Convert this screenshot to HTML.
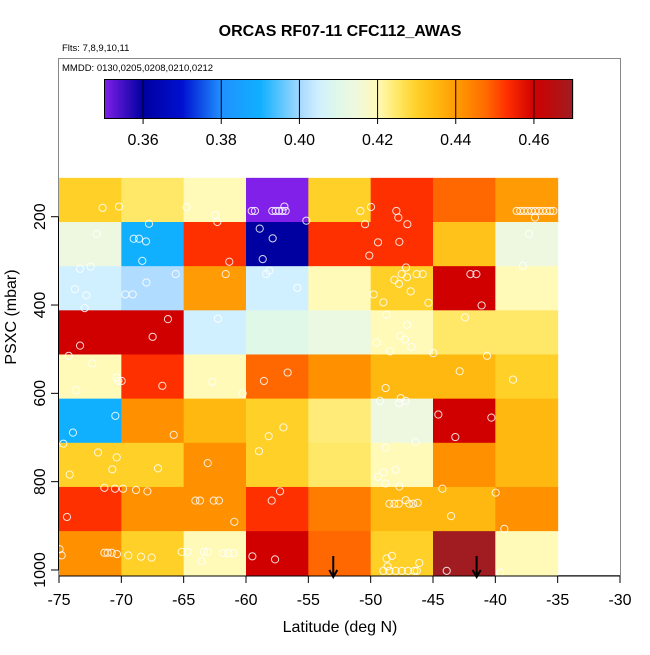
<!DOCTYPE html>
<html><head><meta charset="utf-8"><style>
body{margin:0;background:#fff;}
svg text{font-family:"Liberation Sans",sans-serif;}
</style></head><body>
<svg id="chart" width="650" height="650" xmlns="http://www.w3.org/2000/svg">
<text x="340" y="36" text-anchor="middle" font-size="16" font-weight="bold">ORCAS RF07-11 CFC112_AWAS</text>
<text x="62" y="51" font-size="9.5">Flts: 7,8,9,10,11</text>
<rect x="58.5" y="58.5" width="562" height="517" fill="none" stroke="#888" stroke-width="1"/>
<text x="62" y="71" font-size="9.5">MMDD: 0130,0205,0208,0210,0212</text>
<g id="cbar"></g>
<g id="cells"></g>
<g id="pts"></g>
<g id="axes"></g>
<text x="340" y="632" text-anchor="middle" font-size="16">Latitude (deg N)</text>
<text transform="translate(16,317) rotate(-90)" text-anchor="middle" font-size="16">PSXC (mbar)</text>
</svg>
<script>
const latEdges=[-75,-70,-65,-60,-55,-50,-45,-40,-35];
const presEdges=[112,212,312,412,512,612,712,812,912,1012];
const cellValues=[
[0.43,0.425,0.42,0.35,0.43,0.453,0.448,0.44],
[0.414,0.39,0.453,0.36,0.453,0.453,0.433,0.414],
[0.405,0.401,0.44,0.405,0.42,0.43,0.46,0.42],
[0.46,0.46,0.405,0.41,0.413,0.42,0.425,0.425],
[0.42,0.453,0.42,0.448,0.442,0.435,0.435,0.43],
[0.39,0.442,0.435,0.43,0.424,0.414,0.46,0.435],
[0.43,0.43,0.442,0.43,0.425,0.42,0.442,0.435],
[0.453,0.442,0.442,0.453,0.445,0.435,0.435,0.442],
[0.442,0.43,0.42,0.46,0.448,0.43,0.47,0.42]];
const ptLat=[-71.5,-70.19,-64.76,-62.46,-62.3,-59.54,-59.28,-57.89,-57.62,-57.35,-57.08,-56.82,-56.92,-55.16,-50.83,-49.97,-50.45,-47.94,-47.78,-47.06,-38.29,-38.0,-37.7,-37.4,-37.1,-36.8,-36.5,-36.2,-35.9,-35.6,-35.35,-36.82,
-71.98,-67.78,-69.01,-68.58,-68.02,-68.32,-58.9,-57.86,-58.66,-61.34,-49.41,-47.7,-50.11,-37.3,-37.78,
-73.31,-72.46,-73.72,-72.81,-72.94,-67.99,-69.68,-69.09,-65.64,-61.63,-58.39,-58.13,-55.88,-47.16,-47.51,-48.1,-47.08,-47.73,-46.31,-45.83,-46.79,-49.76,-48.98,-45.37,-42.0,-41.52,-41.1,
-66.26,-67.49,-73.31,-62.25,-48.72,-47.08,-47.62,-47.25,-46.74,-49.52,-48.45,-44.97,-42.43,-40.67,-74.22,
-72.33,-70.37,-69.97,-70.24,-66.71,-73.61,-62.7,-60.27,-58.56,-56.66,-48.8,-42.86,-38.58,
-70.48,-73.88,-74.65,-65.8,-58.18,-57.0,-58.96,-49.25,-47.59,-47.73,-47.19,-44.57,-40.32,-43.21,-46.39,-48.8,
-71.87,-70.37,-70.72,-74.14,-67.06,-63.07,-48.96,-49.41,-48.82,-48.0,-47.7,
-71.36,-70.51,-69.87,-68.82,-67.91,-74.36,-64.06,-63.69,-62.59,-62.17,-60.94,-57.94,-57.27,-44.25,-43.55,-39.97,-39.28,-48.5,-48.1,-47.75,-47.19,-46.92,-46.58,-46.23,
-74.95,-74.79,-71.36,-71.1,-70.77,-70.35,-69.44,-68.42,-67.57,-65.16,-64.68,-63.37,-63.05,-63.56,-61.82,-61.42,-61.02,-59.49,-57.67,-48.72,-48.29,-46.1,-48.64,-48.98,-48.5,-48.0,-47.5,-47.0,-46.5,-46.3,-43.9,-39.63];
const ptPres=[180,177,178,196,212,187,187,187,187,187,187,187,177,209,187,178,217,187,202,217,187,187,187,187,187,187,187,187,187,187,187,202,
239,216,250,250,256,300,227,249,296,302,258,257,288,239,311,
318,313,364,378,407,349,376,376,330,330,330,322,361,315,330,343,337,352,330,330,369,376,394,395,330,330,401,
432,472,492,431,422,445,470,478,495,485,505,509,428,515,515,
532,564,572,572,583,593,574,600,572,553,588,550,569,
651,689,714,694,697,677,731,617,611,622,617,648,655,699,710,723,
734,745,772,784,770,758,779,789,804,773,811,
814,816,816,819,822,880,843,843,843,843,891,843,822,816,878,825,907,850,850,850,842,850,850,848,
953,967,961,961,961,964,967,970,972,959,959,959,959,980,962,962,962,969,976,974,968,984,992,1002,1002,1002,1002,1002,1002,1002,1002,1006];
const xTicks=[-75,-70,-65,-60,-55,-50,-45,-40,-35,-30];
const yTicks=[200,400,600,800,1000];
const cbTicks=[0.36,0.38,0.40,0.42,0.44,0.46];
const arrowLats=[-53,-41.5];

const NS='http://www.w3.org/2000/svg';
function X(lat){return 59+(lat+75)*561/45;}
function Y(p){return 216.7+(p-200)*0.4416;}
function CB(v){return 104+(v-0.35)*469/0.12;}
const stops=[[.35,'#8020E8'],[.36,'#0000A0'],[.37,'#0010D0'],[.38,'#2090FF'],[.39,'#10B0FF'],[.401,'#B0DCFF'],[.405,'#D0F0FF'],[.41,'#E0F8E8'],[.414,'#EEF8E0'],[.42,'#FFFAB8'],[.425,'#FFE868'],[.43,'#FFD028'],[.435,'#FFB810'],[.442,'#FF9000'],[.448,'#FF6800'],[.453,'#FF3000'],[.46,'#D00000'],[.47,'#A01C20']];
function hx(c){return [1,3,5].map(i=>parseInt(c.substr(i,2),16));}
function col(v){
  if(v<=stops[0][0])return stops[0][1];
  for(let i=1;i<stops.length;i++){if(v<=stops[i][0]){const a=stops[i-1],b=stops[i];const t=(v-a[0])/(b[0]-a[0]);const A=hx(a[1]),B=hx(b[1]);return 'rgb('+A.map((x,k)=>Math.round(x+(B[k]-x)*t)).join(',')+')';}}
  return stops[stops.length-1][1];
}
function mk(tag,attrs,parent){const e=document.createElementNS(NS,tag);for(const k in attrs)e.setAttribute(k,attrs[k]);parent.appendChild(e);return e;}
const cb=document.getElementById('cbar');
for(let x=104;x<573;x++){
  const r=mk('rect',{x:x,y:79,width:1.2,height:40,fill:col(0.35+(x+0.5-104)*0.12/469)},cb);
  
  
}
const cbf=mk('rect',{x:104.5,y:79.5,width:468,height:39,fill:'none',stroke:'#000','stroke-width':1},cb);


cbTicks.forEach(v=>{
  const l=mk('line',{x1:CB(v),x2:CB(v),y1:79,y2:124,stroke:'#000','stroke-width':1},cb);
  
  
  const t=mk('text',{x:CB(v),y:145,'text-anchor':'middle','font-size':16},cb);t.textContent=v.toFixed(2);
  
  
});
const cells=document.getElementById('cells');
cellValues.forEach((row,r)=>row.forEach((v,c)=>{
  const x0=X(latEdges[c]),x1=X(latEdges[c+1]),y0=Y(presEdges[r]),y1=Y(presEdges[r+1]);
  const e=mk('rect',{x:x0,y:y0,width:x1-x0+0.5,height:y1-y0+0.5,fill:col(v)},cells);
  
  
}));
const pts=document.getElementById('pts');
ptLat.forEach((la,i)=>{
  const c=mk('circle',{cx:X(la),cy:Y(ptPres[i]),r:3.6,fill:'none',stroke:'#fff','stroke-opacity':0.85,'stroke-width':1},pts);
  
  
});
arrowLats.forEach(la=>{
  const g=mk('g',{stroke:'#000','stroke-width':2,fill:'none'},pts);
  
  
  mk('line',{x1:X(la),x2:X(la),y1:556,y2:577},g);
  mk('polyline',{points:(X(la)-4)+',570 '+X(la)+',577 '+(X(la)+4)+',570'},g);
});
const ax=document.getElementById('axes');
mk('line',{x1:X(-75),x2:X(-30),y1:576,y2:576,stroke:'#000'},ax);
mk('line',{x1:58.5,x2:58.5,y1:Y(200),y2:Y(1000),stroke:'#000'},ax);
xTicks.forEach(v=>{
  const l=mk('line',{x1:X(v),x2:X(v),y1:576,y2:583,stroke:'#000'},ax);
  
  
  const t=mk('text',{x:X(v),y:605,'text-anchor':'middle','font-size':16},ax);t.textContent=v;
  
  
});
yTicks.forEach(v=>{
  const l=mk('line',{x1:51,x2:58.5,y1:Y(v),y2:Y(v),stroke:'#000'},ax);
  
  
  const t=mk('text',{transform:'translate(45,'+Y(v)+') rotate(-90)','text-anchor':'middle','font-size':16},ax);t.textContent=v;
  
  
});
</script>
</body></html>
